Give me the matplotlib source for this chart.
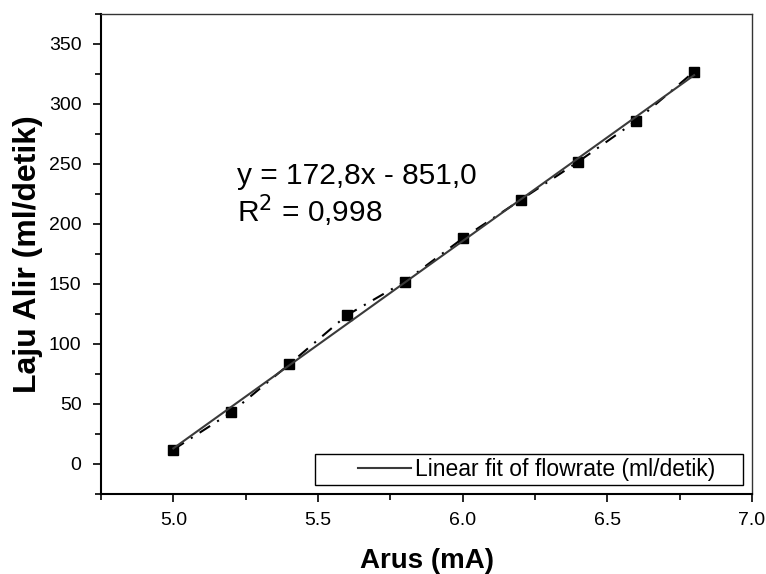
import numpy as np
import matplotlib
matplotlib.use('Agg')
import matplotlib.pyplot as plt
from matplotlib.ticker import MultipleLocator
from matplotlib.patches import Rectangle

plt.rcParams['font.family'] = ['Liberation Sans', 'DejaVu Sans']

# data
arus = [5.0, 5.2, 5.4, 5.6, 5.8, 6.0, 6.2, 6.4, 6.6, 6.8]
flowrate = [12, 43, 83, 124, 152, 188, 220, 252, 286, 327]
slope, intercept = 172.8, -851.0
fit_text = 'y = 172,8x - 851,0'
r2_text = 'R$^2$ = 0,998'
legend_label = 'Linear fit of flowrate (ml/detik)'

W, H = 766, 574
fig = plt.figure(figsize=(W / 100, H / 100), dpi=100)
ax = fig.add_axes([101 / W, 80 / H, 651 / W, 480 / H])

fit_x = np.array([arus[0], arus[-1]])
ax.plot(arus, flowrate, color='black', ls=(0, (6, 4, 1, 4)), lw=1.5, marker='s',
        ms=7, mfc='black', mec='black')
ax.plot(fit_x, slope * fit_x + intercept, color='#3a3a3a', lw=1.5,
        label=legend_label)

ax.set_xlim(4.75, 7.0)
ax.set_ylim(-25, 375)
ax.xaxis.set_minor_locator(MultipleLocator(0.25))
ax.yaxis.set_minor_locator(MultipleLocator(25))
ax.set_xticks([5.0, 5.5, 6.0, 6.5, 7.0])
ax.set_yticks([0, 50, 100, 150, 200, 250, 300, 350])
ax.tick_params(which='major', direction='out', length=6, width=1.2, labelsize=14)
ax.tick_params(which='minor', direction='out', length=4, width=1.2)
ax.tick_params(axis='x', which='major', pad=7)
ax.tick_params(axis='y', which='major', pad=8)
ax.tick_params(which='both', right=False, top=False)
for side in ['left', 'bottom']:
    ax.spines[side].set_linewidth(1.5)
for side in ['top', 'right']:
    ax.spines[side].set_linewidth(1.0)
    ax.spines[side].set_color('#333333')

ax.set_xlabel('Arus (mA)', fontsize=20, fontweight='bold', labelpad=14)
ax.set_ylabel('Laju Alir (ml/detik)', fontsize=23, fontweight='bold', labelpad=4)

ax.text(5.22, 233, fit_text, fontsize=21.5, va='baseline')
ax.text(5.22, 201, r2_text, fontsize=21.5, va='baseline')

# legend box drawn by hand (Origin style, wide left margin)
fig.patches.append(Rectangle((315 / W, 1 - 485 / H), 428 / W, 31 / H,
                             transform=fig.transFigure, fill=False,
                             edgecolor='black', lw=1.0))
leg = ax.legend(loc='center left', fontsize=16.5, frameon=False,
                handlelength=2.3, handletextpad=0.2, borderpad=0, borderaxespad=0,
                bbox_to_anchor=(358 / W, 1 - 469.5 / H),
                bbox_transform=fig.transFigure)

fig.savefig('out.png', dpi=100)
